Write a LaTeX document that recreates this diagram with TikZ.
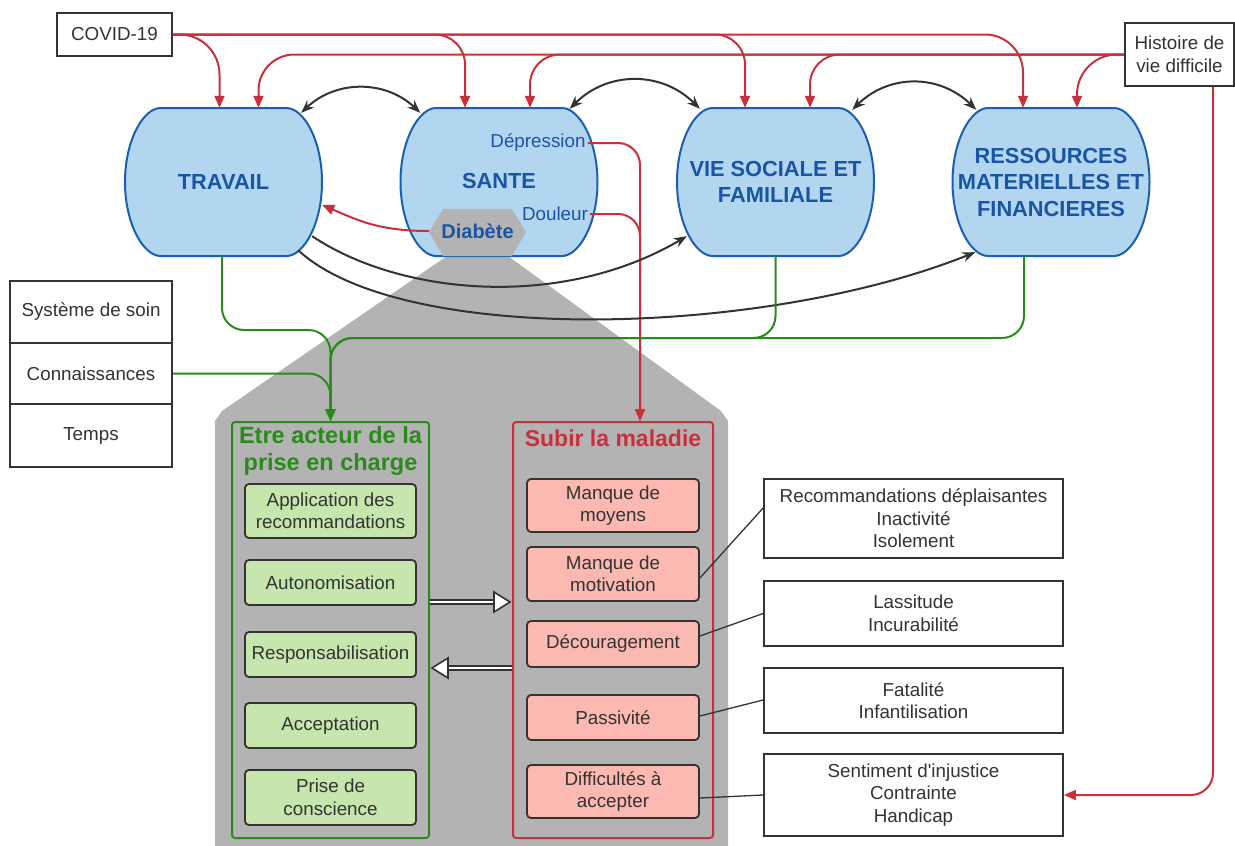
\documentclass[tikz,border=0pt]{standalone}
\usepackage{fontspec}
\setmainfont{Liberation Sans}[Ligatures=TeXOff]
\usetikzlibrary{arrows.meta}
\definecolor{bluefill}{HTML}{B2D6EF}
\definecolor{blueline}{HTML}{1A5FB0}
\definecolor{bluetext}{HTML}{1A55A5}
\definecolor{grayshape}{HTML}{B3B3B3}
\definecolor{colRed}{HTML}{C8313C}
\definecolor{colGreen}{HTML}{2B8A1C}
\definecolor{greenfill}{HTML}{C6E6AE}
\definecolor{pinkfill}{HTML}{FBB9B1}
\definecolor{darkc}{HTML}{333333}
\newcommand\barrelpath[2]{%
  \path[fill=bluefill, draw=blueline, line width=2pt]
   (#1-63,#2-74) -- (#1+63,#2-74)
   .. controls (#1+80,#2-74) and (#1+98.5,#2-42) .. (#1+98.5,#2)
   .. controls (#1+98.5,#2+42) and (#1+80,#2+74) .. (#1+63,#2+74)
   -- (#1-63,#2+74)
   .. controls (#1-80,#2+74) and (#1-98.5,#2+42) .. (#1-98.5,#2)
   .. controls (#1-98.5,#2-42) and (#1-80,#2-74) .. (#1-63,#2-74) -- cycle;}
\begin{document}
\begin{tikzpicture}[x=1pt,y=-1pt,
  txt/.style={text=darkc, font=\fontsize{18.8}{22.5}\selectfont, align=center},
  wbox/.style={txt, draw=darkc, line width=1.8pt, fill=white, inner sep=0pt},
  gbox/.style={txt, draw=darkc, line width=1.8pt, fill=greenfill, rounded corners=4pt, inner sep=0pt, minimum width=171pt},
  pbox/.style={txt, draw=darkc, line width=1.8pt, fill=pinkfill, rounded corners=4pt, inner sep=0pt, minimum width=172pt},
  blobtxt/.style={text=bluetext, font=\bfseries\fontsize{21.8}{26.5}\selectfont, align=center, minimum width=197pt, minimum height=148pt, inner sep=0pt},
  bluesmall/.style={text=bluetext, font=\fontsize{18.8}{22}\selectfont, inner sep=2pt},
  container/.style={line width=2pt, rounded corners=3pt, minimum width=#1, minimum height=416pt, inner sep=0pt},
  redln/.style={draw=colRed, line width=2pt},
  redarr/.style={redln, -{Triangle[length=12pt,width=10pt]}},
  grnarr/.style={draw=colGreen, line width=2pt, -{Triangle[length=12pt,width=10pt]}},
  blk/.style={draw=darkc, line width=2pt, {Stealth[length=13pt,width=10pt]}-{Stealth[length=13pt,width=10pt]}},
  blkarr/.style={draw=darkc, line width=2pt, -{Stealth[length=13pt,width=10pt]}},
  thinln/.style={draw=darkc, line width=1.3pt},
  dbl/.style={draw=darkc, line width=1.3pt, double=white, double distance=2.6pt},
  opentip/.style={draw=darkc, line width=1.6pt, fill=white, line join=miter}
]
\useasboundingbox (0,0) rectangle (1235,846);

% gray funnel
\path[fill=grayshape] (447,256) -- (508,256) -- (721,411) -- (728,421) -- (728,846)
  -- (215,846) -- (215,421) -- (222,411) -- cycle;

% blue blobs
\barrelpath{223.5}{182}
\barrelpath{499}{182}
\barrelpath{775.5}{182}
\barrelpath{1051}{182}
\node[blobtxt] (travail) at (223.5,182) {TRAVAIL};
\node[blobtxt] (sante) at (499,182) {\raisebox{2pt}{SANTE}};
\node[blobtxt] (vie) at (775.5,182) {VIE SOCIALE ET\\FAMILIALE};
\node[blobtxt] (ress) at (1051,182) {RESSOURCES\\MATERIELLES ET\\FINANCIERES};

% Diabete hexagon
\path[fill=grayshape] (429,232) -- (443,209) -- (512,209) -- (526,232) -- (512,256) -- (443,256) -- cycle;
\node[text=bluetext, font=\bfseries\fontsize{20}{24}\selectfont, minimum width=97pt, inner sep=0pt] (diab) at (477.5,231) {Diabète};
\node[bluesmall] (dep) at (538,143) {Dépression};
\node[bluesmall] (doul) at (555,214) {Douleur};

% top boxes
\node[wbox, minimum width=115pt, minimum height=43pt] (covid) at (114.5,34.5) {COVID-19};
\node[wbox, minimum width=109pt, minimum height=63pt] (hist) at (1179.5,54.5) {Histoire de\\vie difficile};

% left stack
\node[wbox, minimum width=162pt, minimum height=62pt] (soin) at (91,312) {Système de soin};
\node[wbox, minimum width=162pt, minimum height=61pt] (conn) at (91,373.5) {Connaissances};
\node[wbox, minimum width=162pt, minimum height=63pt] (temps) at (91,435.5) {Temps};

% containers
\node[container=197pt, draw=colGreen] (greenbox) at (330.5,630) {};
\node[container=200pt, draw=colRed] (redbox) at (613,630) {};
\node[text=colGreen, font=\bfseries\fontsize{23.5}{27}\selectfont, align=center] (gtitle) at (330.5,451) {Etre acteur de la\\prise en charge};
\node[text=colRed, font=\bfseries\fontsize{23}{27}\selectfont] (rtitle) at (613,438) {Subir la maladie};

% green boxes
\node[gbox, minimum height=54pt] (g1) at (330.5,511) {Application des\\recommandations};
\node[gbox, minimum height=45pt] (g2) at (330.5,582.5) {Autonomisation};
\node[gbox, minimum height=45pt] (g3) at (330.5,654.5) {Responsabilisation};
\node[gbox, minimum height=45pt] (g4) at (330.5,725.5) {Acceptation};
\node[gbox, minimum height=55pt] (g5) at (330.5,797.5) {Prise de\\conscience};

% pink boxes
\node[pbox, minimum height=53pt] (p1) at (613,505.5) {Manque de\\moyens};
\node[pbox, minimum height=54pt] (p2) at (613,574) {Manque de\\motivation};
\node[pbox, minimum height=46pt] (p3) at (613,644) {Découragement};
\node[pbox, minimum height=45pt] (p4) at (613,717.5) {Passivité};
\node[pbox, minimum height=53pt] (p5) at (613,791.5) {Difficultés à\\accepter};

% right boxes
\node[wbox, minimum width=299pt, minimum height=79pt] (r1) at (913.5,518.5) {Recommandations déplaisantes\\Inactivité\\Isolement};
\node[wbox, minimum width=299pt, minimum height=65pt] (r2) at (913.5,613.5) {Lassitude\\Incurabilité};
\node[wbox, minimum width=299pt, minimum height=65pt] (r3) at (913.5,700.5) {Fatalité\\Infantilisation};
\node[wbox, minimum width=299pt, minimum height=82pt] (r4) at (913.5,795) {Sentiment d'injustice\\Contrainte\\Handicap};

% pink -> right box links
\draw[thinln] ([yshift=-4pt]p2.east) -- ([yshift=10.5pt]r1.west);
\draw[thinln] ([yshift=8pt]p3.east) -- (r2.west);
\draw[thinln] ([yshift=1.5pt]p4.east) -- ([yshift=0.5pt]r3.west);
\draw[thinln] ([yshift=-6.5pt]p5.east) -- (r4.west);

% double hollow arrows
\draw[dbl] ([yshift=28pt]greenbox.east) -- ([yshift=28pt,xshift=-15pt]redbox.west);
\draw[opentip] ([yshift=28pt,xshift=-2pt]redbox.west) -- ++(-16,-10) -- ++(0,20) -- cycle;
\draw[dbl] ([yshift=-38pt]redbox.west) -- ([yshift=-38pt,xshift=15pt]greenbox.east);
\draw[opentip] ([yshift=-38pt,xshift=2pt]greenbox.east) -- ++(16,-10) -- ++(0,20) -- cycle;

% red connectors from COVID-19
\draw[redarr, rounded corners=40pt] (covid.east) -| ([xshift=-4pt]travail.north);
\draw[redarr, rounded corners=30pt] (covid.east) -| ([xshift=-34pt]sante.north);
\draw[redarr, rounded corners=30pt] (covid.east) -| ([xshift=-30.5pt]vie.north);
\draw[redarr, rounded corners=38pt] (covid.east) -| ([xshift=-28pt]ress.north);
% red connectors from Histoire
\draw[redarr, rounded corners=36pt] (hist.west) -| ([xshift=35pt]travail.north);
\draw[redarr, rounded corners=30pt] (hist.west) -| ([xshift=31pt]sante.north);
\draw[redarr, rounded corners=30pt] (hist.west) -| ([xshift=34.5pt]vie.north);
\draw[redarr, rounded corners=40pt] (hist.west) -| ([xshift=26pt]ress.north);
\draw[redarr, rounded corners=22pt] ([xshift=33.5pt]hist.south) |- (r4.east);

% red from Sante items
\draw[redarr, rounded corners=22pt] (dep.east) -| ([xshift=27pt]redbox.north);
\draw[redarr, rounded corners=22pt] (doul.east) -| ([xshift=27pt]redbox.north);
\draw[redarr] (diab.west) .. controls +(-50,0) and +(35,15) .. ([shift={(0,23)}]travail.east);

% black arches
\draw[blk] ([shift={(-21,5)}]travail.north east) .. controls +(35,-33) and +(-35,-33) .. ([shift={(20,5)}]sante.north west);
\draw[blk] ([shift={(-28,1)}]sante.north east) .. controls +(38,-38) and +(-38,-38) .. ([shift={(23,1)}]vie.north west);
\draw[blk] ([shift={(-22,2)}]vie.north east) .. controls +(37,-36) and +(-37,-36) .. ([shift={(24,2)}]ress.north west);

% black curves from TRAVAIL
\draw[blkarr] ([shift={(-10,-20)}]travail.south east) .. controls +(88,59) and +(-126,74) .. ([shift={(10,-20)}]vie.south west);
\draw[blkarr] ([shift={(-24,-6)}]travail.south east) .. controls +(102,95) and +(-215,86) .. ([shift={(23,-4)}]ress.south west);

% green connectors
\coordinate (jA) at (330.5,330);
\coordinate (jB) at (330.5,338);
\draw[grnarr, rounded corners=22pt] ([xshift=-1.5pt]travail.south) |- (jA) -- (greenbox.north);
\draw[grnarr, rounded corners=22pt] (vie.south) |- (jB) -- (greenbox.north);
\draw[grnarr, rounded corners=22pt] ([xshift=-27pt]ress.south) |- (jB) -- (greenbox.north);
\draw[grnarr, rounded corners=22pt] (conn.east) -| (greenbox.north);
\end{tikzpicture}
\end{document}
